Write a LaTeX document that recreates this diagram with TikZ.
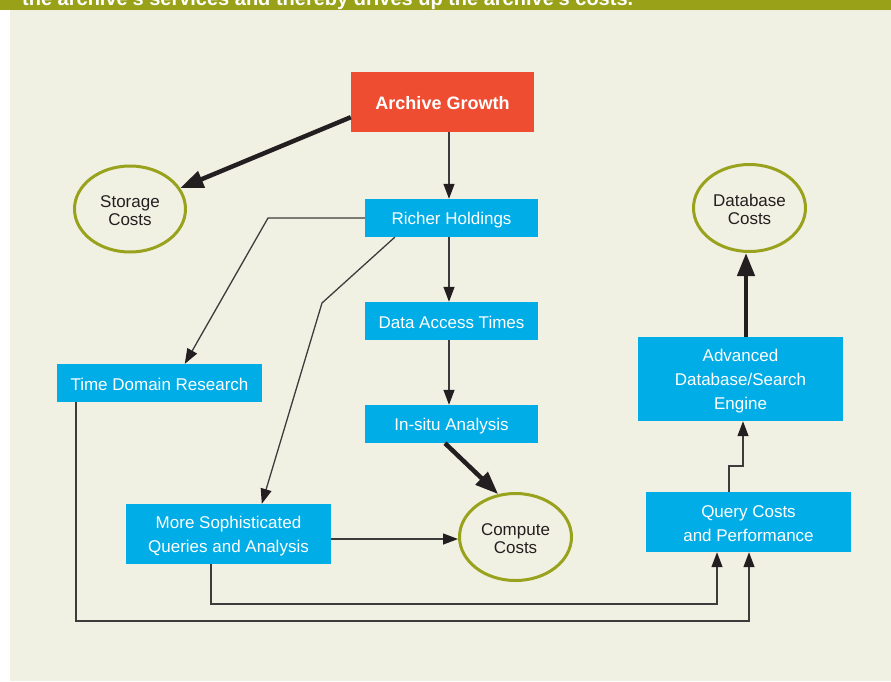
\documentclass[tikz,border=0pt]{standalone}
\usepackage{fontspec}
\setmainfont{Liberation Sans}
\usetikzlibrary{arrows.meta,shapes.geometric,calc}
\definecolor{bgc}{HTML}{F1F1E3}
\definecolor{bandc}{HTML}{98A118}
\definecolor{redc}{HTML}{EF4D31}
\definecolor{bluec}{HTML}{00ADE6}
\definecolor{olivec}{HTML}{98A21C}
\definecolor{darkc}{HTML}{231F20}
\definecolor{linec}{HTML}{3C3C3C}
\newcommand{\myup}{\rule{0pt}{16pt}}
\begin{document}
\begin{tikzpicture}[x=1pt,y=-1pt,
  bluebox/.style={rectangle, fill=bluec, text=white, inner sep=0pt, align=center,
    font=\fontsize{17}{24}\selectfont},
  redbox/.style={rectangle, fill=redc, text=white, inner sep=0pt,
    font=\bfseries\fontsize{18}{22}\selectfont},
  costs/.style={ellipse, draw=olivec, line width=3pt, fill=bgc, text=darkc, inner sep=0pt,
    align=center, font=\fontsize{17}{18}\selectfont},
  conn/.style={draw=linec, line width=1.3pt, -{Triangle[length=15pt,width=11pt,color=darkc]}},
  bigconn/.style={draw=darkc, line width=4.5pt, -{Triangle[length=23pt,width=17pt]}}]
\useasboundingbox (0,0) rectangle (891,681);
\fill[white] (0,0) rectangle (891,681);
\fill[bgc] (10,10) rectangle (891,681);
\fill[bandc] (0,0) rectangle (891,10);
\begin{scope}
\clip (0,0) rectangle (891,10);
\node[anchor=base west, text=white, font=\bfseries\fontsize{20}{20}\selectfont, inner sep=0pt] (hdr) at (22,5) {the archive's services and thereby drives up the archive's costs.};
\end{scope}

% nodes
\node[redbox, minimum width=183pt, minimum height=60pt] (ag) at (442.5,102) {\myup Archive Growth};
\node[bluebox, minimum width=173pt, minimum height=38pt] (rh) at (451.5,218) {\myup Richer Holdings};
\node[bluebox, minimum width=173pt, minimum height=38pt] (dat) at (451.5,321) {\myup Data Access Times};
\node[bluebox, minimum width=173pt, minimum height=38pt] (isa) at (451.5,424) {\myup In-situ Analysis};
\node[bluebox, minimum width=205pt, minimum height=38pt] (tdr) at (159.5,383) {\myup Time Domain Research};
\node[bluebox, minimum width=205pt, minimum height=60pt] (msq) at (228.5,534) {\myup More Sophisticated\\Queries and Analysis};
\node[bluebox, minimum width=205pt, minimum height=60pt] (qcp) at (748.5,522) {\myup Query Costs\\and Performance};
\node[bluebox, minimum width=205pt, minimum height=84pt] (adv) at (740.5,379) {\myup Advanced\\Database/Search\\Engine};
\node[costs, minimum width=111pt, minimum height=86pt] (sc) at (130,209) {\myup Storage\\Costs};
\node[costs, minimum width=112pt, minimum height=87pt] (cc) at (515.5,537) {\myup Compute\\Costs};
\node[costs, minimum width=112pt, minimum height=87pt] (dbc) at (749.5,208) {\myup Database\\Costs};

% helper coordinates
\coordinate (sp) at (449,0);
\coordinate (b1) at (268,218);
\coordinate (b2) at (322,303);
\coordinate (b3) at (211,604);
\coordinate (b4) at (717,604);
\coordinate (b5) at (76,621);
\coordinate (b6) at (749,621);
\coordinate (b7) at (729,466);
\coordinate (b8) at (743,466);

% connectors
\draw[bigconn] ($(ag.south west)+(0,-15)$) -- (sc);
\draw[conn] (sp |- ag.south) -- (sp |- rh.north);
\draw[conn] (sp |- rh.south) -- (sp |- dat.north);
\draw[conn] (sp |- dat.south) -- (sp |- isa.north);
\draw[bigconn] ($(isa.south)+(-6.5,0)$) -- (cc.112);
\draw[conn] (rh.west) -- (b1) -- ($(tdr.north west)+(128,0)$);
\draw[conn] ($(rh.south west)+(30,0)$) -- (b2) -- ($(msq.north west)+(136,0)$);
\draw[conn] (msq.east |- 0,539) -- (cc.west |- 0,539);
\draw[conn] (b3 |- msq.south) -- (b3) -- (b4) -- (b4 |- qcp.south);
\draw[conn] (b5 |- tdr.south) -- (b5) -- (b6) -- (b6 |- qcp.south);
\draw[conn] (b7 |- qcp.north) -- (b7) -- (b8) -- (b8 |- adv.south);
\draw[bigconn] ($(adv.north)+(5.5,0)$) -- ($(dbc.south)+(-3.5,0)$);
\end{tikzpicture}
\end{document}
